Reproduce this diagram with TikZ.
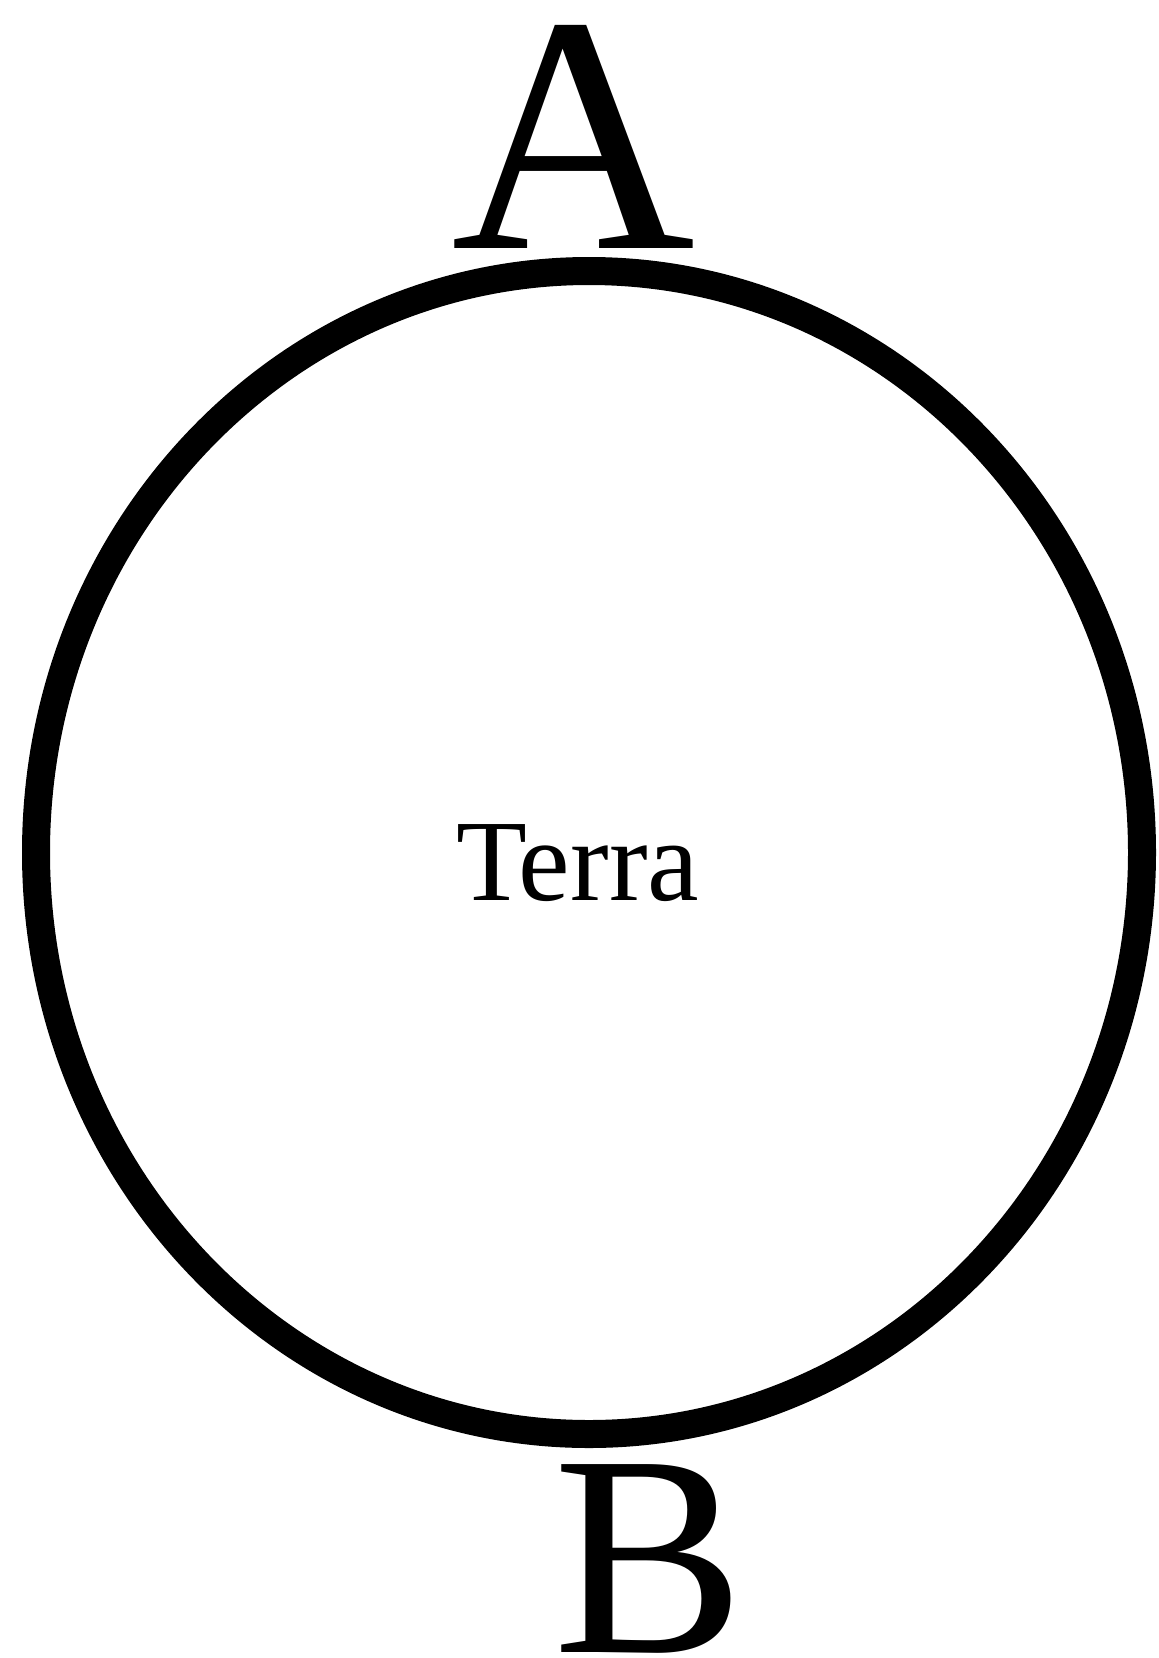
\documentclass[tikz,border=0pt]{standalone}
\usepackage{fontspec}
\setmainfont{Liberation Serif}

\begin{document}
\begin{tikzpicture}[
    x=1pt, y=-1pt,
    globe/.style={draw=black, line width=28pt},
    pole/.style={inner sep=0pt, anchor=base},
    bigletter/.style={font=\fontsize{338}{338}\selectfont},
    midletter/.style={font=\fontsize{287}{287}\selectfont},
    earthname/.style={inner sep=0pt, anchor=base, font=\fontsize{116}{116}\selectfont}
]
\useasboundingbox (0,0) rectangle (1159,1658);

% the earth
\draw[globe] (589,852.5) ellipse [x radius=553pt, y radius=581.5pt];

% poles
\node[pole,bigletter] (A) at (573.5,248) {A};
\node[pole,midletter] (B) at (649,1652) {B};

% name
\node[earthname] (terra) at (577.5,900) {Terra};

\end{tikzpicture}
\end{document}
